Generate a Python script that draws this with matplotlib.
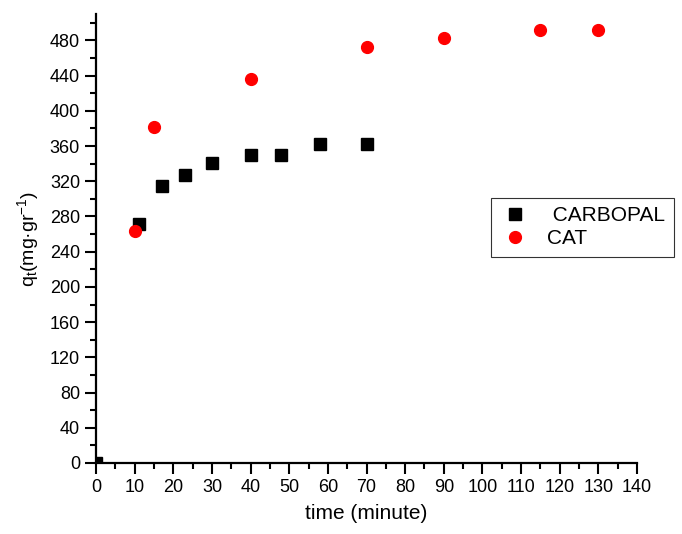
import matplotlib
matplotlib.use("Agg")
import matplotlib.pyplot as plt
from matplotlib.ticker import MultipleLocator

# data
carbopal_t = [0, 11, 17, 23, 30, 40, 48, 58, 70]
carbopal_q = [0, 271, 315, 327, 341, 350, 350, 362, 362]
cat_t = [10, 15, 40, 70, 90, 115, 130]
cat_q = [264, 382, 436, 473, 483, 492, 492]

plt.rcParams['font.family'] = ['Liberation Sans', 'DejaVu Sans']
plt.rcParams['mathtext.fontset'] = 'custom'
plt.rcParams['mathtext.rm'] = 'Liberation Sans'
plt.rcParams['mathtext.it'] = 'Liberation Sans'

fig = plt.figure(figsize=(6.82, 5.34), dpi=100)
ax = fig.add_axes([0.1408, 0.133, 0.7932, 0.8408])

ax.plot(carbopal_t, carbopal_q, 's', color='black', markersize=8, label=' CARBOPAL', clip_on=True)
ax.plot(cat_t, cat_q, 'o', color='red', markersize=8.5, label='CAT', clip_on=False)

ax.set_xlim(0, 140)
ax.set_ylim(0, 510)
ax.xaxis.set_major_locator(MultipleLocator(10))
ax.xaxis.set_minor_locator(MultipleLocator(5))
ax.yaxis.set_major_locator(MultipleLocator(40))
ax.yaxis.set_minor_locator(MultipleLocator(20))

ax.spines['top'].set_visible(False)
ax.spines['right'].set_visible(False)
ax.spines['left'].set_linewidth(1.6)
ax.spines['bottom'].set_linewidth(1.6)
ax.tick_params(which='major', direction='out', length=8, width=1.5, labelsize=13)
ax.tick_params(which='minor', direction='out', length=4, width=1.5)

ax.set_xlabel('time (minute)', fontsize=15, labelpad=6)
ax.set_ylabel(r'q$_t$(mg·gr$^{-1}$)', fontsize=14, labelpad=6)

leg = ax.legend(loc='upper left', bbox_to_anchor=(491 / 682, 1 - 198 / 534),
                bbox_transform=fig.transFigure, borderaxespad=0, fontsize=15,
                frameon=True, fancybox=False, edgecolor='black', borderpad=0.4,
                handletextpad=0.8, labelspacing=0.2, handlelength=1.5)
leg.get_frame().set_linewidth(0.8)

fig.savefig('out.png', dpi=100)
